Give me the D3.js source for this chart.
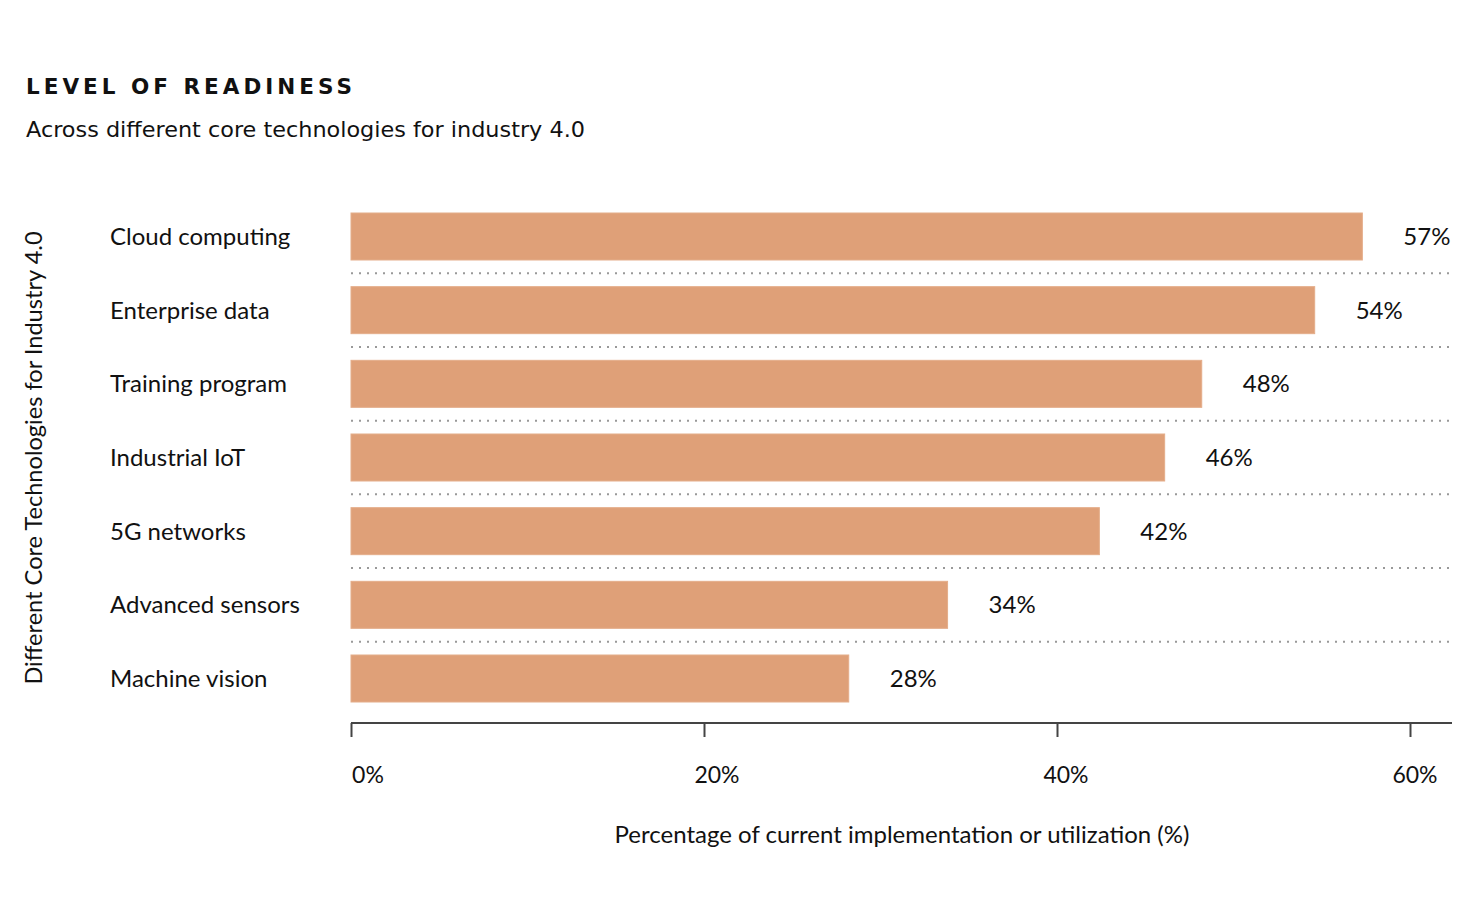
<!DOCTYPE html>
<html>
<head>
<meta charset="utf-8">
<script src="https://cdn.jsdelivr.net/npm/d3@7"></script>
<style>
  html, body { margin: 0; padding: 0; background: #fff; }
  svg { display: block; }
  text { font-family: Lato, "Open Sans", sans-serif; fill: #111; }
</style>
</head>
<body>
<svg id="chart" width="1476" height="907"></svg>
<script>
const categories = ["Cloud computing", "Enterprise data", "Training program", "Industrial IoT", "5G networks", "Advanced sensors", "Machine vision"];
const values = [57.3, 54.6, 48.2, 46.1, 42.4, 33.8, 28.2];
const valueLabels = ["57%", "54%", "48%", "46%", "42%", "34%", "28%"];
const tickValues = [0, 20, 40, 60];
const tickLabels = ["0%", "20%", "40%", "60%"];
const title = "LEVEL OF READINESS";
const subtitle = "Across different core technologies for industry 4.0";
const xTitle = "Percentage of current implementation or utilization (%)";
const yTitle = "Different Core Technologies for Industry 4.0";

const svg = d3.select("#chart");
const x = d3.scaleLinear().domain([0, 60]).range([351, 1410]);
const xLabel = d3.scaleLinear().domain([0, 60]).range([368, 1415]);
const y = d3.scaleBand().domain(categories).range([213, 702]).paddingInner(0.362).paddingOuter(0);
const axisEnd = 1452;

// titles
svg.append("text").attr("x", 26).attr("y", 94)
  .style("font-family", "'DejaVu Sans', sans-serif")
  .style("font-size", "21.5px").style("font-weight", "700")
  .attr("textLength", 326).attr("lengthAdjust", "spacing")
  .text(title);
svg.append("text").attr("x", 26).attr("y", 137)
  .style("font-family", "'DejaVu Sans', sans-serif")
  .style("font-size", "20.5px")
  .attr("textLength", 559).attr("lengthAdjust", "spacingAndGlyphs")
  .text(subtitle);

// dotted separators
const seps = categories.slice(1).map((c, i) => (y(categories[i]) + y.bandwidth() + y(c)) / 2);
svg.append("g").selectAll("line").data(seps).join("line")
  .attr("x1", x(0)).attr("x2", axisEnd)
  .attr("y1", d => d).attr("y2", d => d)
  .attr("stroke", "#999").attr("stroke-width", 2)
  .attr("stroke-dasharray", "2,6");

// bars
svg.append("g").selectAll("rect").data(categories).join("rect")
  .attr("x", x(0)).attr("y", d => y(d))
  .attr("width", (d, i) => x(values[i]) - x(0))
  .attr("height", y.bandwidth())
  .attr("fill", "#dfa078")
  .attr("stroke", "#e4ad8a").attr("stroke-width", 1);

// category labels
svg.append("g").selectAll("text").data(categories).join("text")
  .attr("x", 110).attr("y", d => y(d) + y.bandwidth() / 2)
  .attr("dy", "0.35em")
  .style("font-size", "24px")
  .text(d => d);

// value labels
svg.append("g").selectAll("text").data(categories).join("text")
  .attr("x", (d, i) => x(values[i]) + 41).attr("y", d => y(d) + y.bandwidth() / 2)
  .attr("dy", "0.35em")
  .style("font-size", "24px")
  .text((d, i) => valueLabels[i]);

// x axis
const axis = d3.axisBottom(x).tickValues(tickValues).tickSize(14).tickSizeOuter(0).tickFormat("");
const gAxis = svg.append("g").attr("transform", "translate(0,723)").call(axis);
gAxis.select(".domain").attr("d", `M${x(0)},0H${axisEnd}`).attr("stroke", "#444").attr("stroke-width", 2);
gAxis.selectAll(".tick line").attr("stroke", "#444").attr("stroke-width", 2);

svg.append("g").selectAll("text").data(tickValues).join("text")
  .attr("x", d => xLabel(d)).attr("y", 783)
  .attr("text-anchor", "middle")
  .style("font-size", "23px")
  .text((d, i) => tickLabels[i]);

svg.append("text").attr("x", 902).attr("y", 843)
  .attr("text-anchor", "middle")
  .style("font-size", "24px")
  .text(xTitle);

svg.append("text")
  .attr("transform", "translate(42,458) rotate(-90)")
  .attr("text-anchor", "middle")
  .style("font-size", "23.6px")
  .text(yTitle);
</script>
</body>
</html>
